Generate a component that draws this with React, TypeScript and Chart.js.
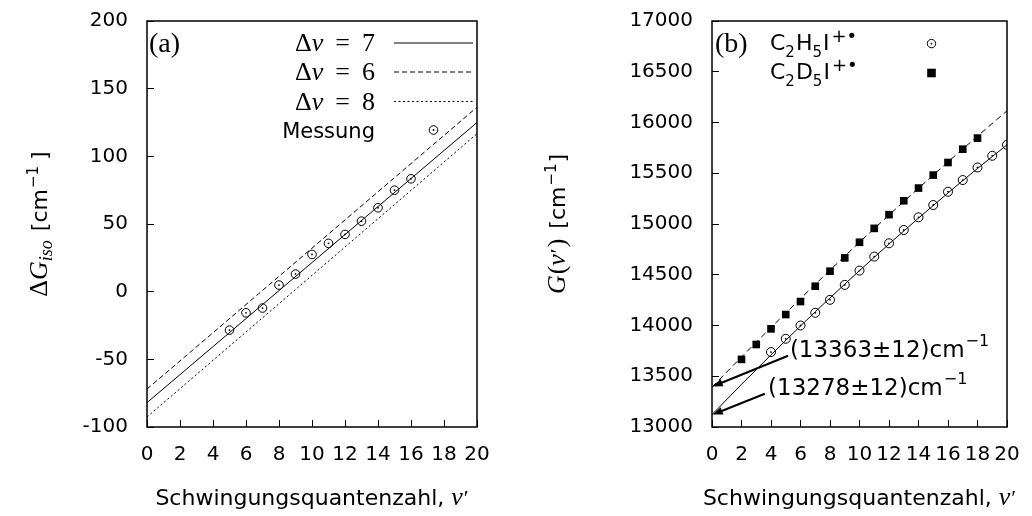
import React, { useEffect, useRef } from 'react';
import { Chart, registerables } from 'chart.js';

Chart.register(...registerables);

const SANS = '"DejaVu Sans", sans-serif';
const SERIF = '"Liberation Serif", serif';
const BLACK = '#000000';

// ---------- tick labels ----------
const xTickLabels = [0, 2, 4, 6, 8, 10, 12, 14, 16, 18, 20];
const leftYTickLabels = [-100, -50, 0, 50, 100, 150, 200];
const rightYTickLabels = [13000, 13500, 14000, 14500, 15000, 15500, 16000, 16500, 17000];

// ---------- panel (a) ----------
const messV = [5, 6, 7, 8, 9, 10, 11, 12, 13, 14, 15, 16];
const messDG = [-28.4, -15.6, -12.1, 4.9, 13.0, 27.5, 35.7, 42.3, 52.1, 62.0, 75.0, 83.4];
const lineV = [0, 20];
const dv7Line = [-82, 125];
const dv6Line = [-72, 136.3];
const dv8Line = [-92.6, 116.7];
const dvNames = ['7', '6', '8'];

// ---------- panel (b) ----------
const hV = [4, 5, 6, 7, 8, 9, 10, 11, 12, 13, 14, 15, 16, 17, 18, 19, 20];
const hG = [13738, 13869, 14000, 14125, 14253, 14400, 14541, 14679, 14810, 14941, 15066, 15187, 15318, 15433, 15557, 15672, 15780];
const dV = [2, 3, 4, 5, 6, 7, 8, 9, 10, 11, 12, 13, 14, 15, 16, 17, 18];
const dG = [13666, 13813, 13967, 14108, 14236, 14387, 14535, 14666, 14820, 14957, 15092, 15229, 15354, 15482, 15606, 15737, 15846];
const fitV = [0, 2, 4, 6, 8, 10, 12, 14, 16, 18, 20];
const hFit = [13122, 13420, 13711, 13995, 14272, 14541, 14803, 15058, 15306, 15547, 15780];
const dFit = [13394, 13689, 13980, 14265, 14545, 14820, 15088, 15352, 15611, 15865, 16115];

const t0Values = [13363, 13278];
const t0Errors = [12, 12];
const arrowHeads = [[0.05, 13400], [0.05, 13122]];
const arrowTails = [[5.16, 13702], [3.58, 13328]];
const labelAnchors = [[5.28, 13771], [3.8, 13397]];

type Seg = { text: string; font: string; dy?: number; dx?: number };

function richWidth(ctx: CanvasRenderingContext2D, segs: Seg[]) {
  let w = 0;
  for (const s of segs) {
    ctx.font = s.font;
    w += ctx.measureText(s.text).width + (s.dx || 0);
  }
  return w;
}

function drawRich(ctx: CanvasRenderingContext2D, segs: Seg[], x: number, y: number, align: 'left' | 'right' | 'center') {
  const w = richWidth(ctx, segs);
  let cx = align === 'left' ? x : align === 'right' ? x - w : x - w / 2;
  ctx.textAlign = 'left';
  ctx.textBaseline = 'alphabetic';
  for (const s of segs) {
    ctx.font = s.font;
    cx += s.dx || 0;
    ctx.fillText(s.text, cx, y + (s.dy || 0));
    cx += ctx.measureText(s.text).width;
  }
}

function drawArrow(ctx: CanvasRenderingContext2D, x1: number, y1: number, x2: number, y2: number) {
  const a = Math.atan2(y2 - y1, x2 - x1);
  const c = Math.cos(a), s = Math.sin(a);
  const L = 10, W = 3.8;
  ctx.lineWidth = 2;
  ctx.beginPath();
  ctx.moveTo(x1, y1);
  ctx.lineTo(x2 - L * 0.7 * c, y2 - L * 0.7 * s);
  ctx.stroke();
  ctx.beginPath();
  ctx.moveTo(x2, y2);
  ctx.lineTo(x2 - L * c + W * s, y2 - L * s - W * c);
  ctx.lineTo(x2 - L * c - W * s, y2 - L * s + W * c);
  ctx.closePath();
  ctx.fill();
}

const pts = (xs: number[], ys: number[]) => xs.map((x, i) => ({ x, y: ys[i] }));

function axis(min: number, max: number, ticks: number[], dim: 'w' | 'h', size: number, padding: number) {
  return {
    type: 'linear' as const,
    min,
    max,
    afterBuildTicks: (s: any) => {
      s.ticks = ticks.map((v) => ({ value: v }));
    },
    afterFit: (s: any) => {
      if (dim === 'w') s.width = size;
      else s.height = size;
      s.paddingTop = 0;
      s.paddingBottom = 0;
      s.paddingLeft = 0;
      s.paddingRight = 0;
    },
    ticks: {
      color: BLACK,
      font: { family: SANS, size: 20 },
      padding,
      autoSkip: false,
      maxRotation: 0,
      minRotation: 0,
      callback: (v: any) => String(v),
    },
    grid: { drawOnChartArea: false, drawTicks: true, tickLength: -7, color: BLACK, lineWidth: 1 },
    border: { display: false },
  };
}

function xTitle(ctx: CanvasRenderingContext2D, cx: number) {
  drawRich(
    ctx,
    [
      { text: 'Schwingungsquantenzahl, ', font: `22px ${SANS}` },
      { text: 'v', font: `italic 26px ${SERIF}` },
      { text: '′', font: `22px ${SERIF}`, dx: 1 },
    ],
    cx,
    505,
    'center'
  );
}

function frame(ctx: CanvasRenderingContext2D, ca: any) {
  ctx.lineWidth = 1.5;
  ctx.strokeRect(ca.left, ca.top, ca.right - ca.left, ca.bottom - ca.top);
}

function circleMarker(ctx: CanvasRenderingContext2D, x: number, y: number, r: number) {
  ctx.lineWidth = 1;
  ctx.beginPath();
  ctx.arc(x, y, r, 0, Math.PI * 2);
  ctx.stroke();
  ctx.beginPath();
  ctx.arc(x, y, 0.9, 0, Math.PI * 2);
  ctx.fill();
}

const dashes = [[], [5, 3], [2, 2.5]];

const leftDecor = {
  id: 'leftDecor',
  afterDraw(chart: any) {
    const { ctx, chartArea: ca } = chart;
    ctx.save();
    ctx.fillStyle = BLACK;
    ctx.strokeStyle = BLACK;
    frame(ctx, ca);
    drawRich(ctx, [{ text: '(a)', font: `28px ${SERIF}` }], ca.left + 2, ca.top + 31, 'left');

    const textRight = ca.right - 102;
    const lineStart = ca.right - 83;
    const lineEnd = ca.right - 4;
    const rowCenters = [22, 51, 80.5, 109];
    for (let i = 0; i < 3; i++) {
      const yc = ca.top + rowCenters[i];
      drawRich(
        ctx,
        [
          { text: 'Δ', font: `26px ${SERIF}` },
          { text: 'v', font: `italic 26px ${SERIF}` },
          { text: '=', font: `26px ${SERIF}`, dx: 12 },
          { text: dvNames[i], font: `26px ${SERIF}`, dx: 12 },
        ],
        textRight,
        yc + 8,
        'right'
      );
      ctx.lineWidth = 1;
      ctx.setLineDash(dashes[i]);
      ctx.beginPath();
      ctx.moveTo(lineStart, yc);
      ctx.lineTo(lineEnd, yc);
      ctx.stroke();
      ctx.setLineDash([]);
    }
    const ym = ca.top + rowCenters[3];
    drawRich(ctx, [{ text: 'Messung', font: `21px ${SANS}` }], textRight, ym + 8, 'right');
    circleMarker(ctx, (lineStart + lineEnd) / 2, ym, 4.3);

    xTitle(ctx, (ca.left + ca.right) / 2);

    ctx.save();
    ctx.translate(47, (ca.top + ca.bottom) / 2);
    ctx.rotate(-Math.PI / 2);
    drawRich(
      ctx,
      [
        { text: 'Δ', font: `26px ${SERIF}` },
        { text: 'G', font: `italic 26px ${SERIF}` },
        { text: 'iso', font: `italic 18px ${SERIF}`, dy: 5 },
        { text: '[cm', font: `22px ${SANS}`, dx: 9 },
        { text: '−1', font: `15px ${SANS}`, dy: -9, dx: 1 },
        { text: ']', font: `22px ${SANS}`, dx: 6 },
      ],
      0,
      0,
      'center'
    );
    ctx.restore();
    ctx.restore();
  },
};

const rightDecor = {
  id: 'rightDecor',
  afterDatasetsDraw(chart: any) {
    const { ctx } = chart;
    const xs = chart.scales.x;
    const ys = chart.scales.y;
    ctx.save();
    ctx.fillStyle = BLACK;
    ctx.strokeStyle = BLACK;
    for (let i = 0; i < arrowHeads.length; i++) {
      drawArrow(
        ctx,
        xs.getPixelForValue(arrowTails[i][0]),
        ys.getPixelForValue(arrowTails[i][1]),
        xs.getPixelForValue(arrowHeads[i][0]),
        ys.getPixelForValue(arrowHeads[i][1])
      );
      drawRich(
        ctx,
        [
          { text: `(${t0Values[i]}±${t0Errors[i]})cm`, font: `23px ${SANS}` },
          { text: '−1', font: `16px ${SANS}`, dy: -11, dx: 1 },
        ],
        xs.getPixelForValue(labelAnchors[i][0]),
        ys.getPixelForValue(labelAnchors[i][1]) + 8,
        'left'
      );
    }
    ctx.restore();
  },
  afterDraw(chart: any) {
    const { ctx, chartArea: ca } = chart;
    ctx.save();
    ctx.fillStyle = BLACK;
    ctx.strokeStyle = BLACK;
    frame(ctx, ca);
    drawRich(ctx, [{ text: '(b)', font: `28px ${SERIF}` }], ca.left + 3, ca.top + 31, 'left');

    const tx = ca.left + 58;
    const mx = ca.left + 219.5;
    const names = ['H', 'D'];
    const rowsBase = [29.3, 57.6];
    for (let i = 0; i < 2; i++) {
      const by = ca.top + rowsBase[i];
      drawRich(
        ctx,
        [
          { text: 'C', font: `22px ${SANS}` },
          { text: '2', font: `15px ${SANS}`, dy: 7 },
          { text: names[i], font: `22px ${SANS}`, dx: 1 },
          { text: '5', font: `15px ${SANS}`, dy: 7 },
          { text: 'I', font: `22px ${SANS}`, dx: 1 },
          { text: '+', font: `18px ${SANS}`, dy: -8, dx: 2 },
          { text: '•', font: `18px ${SANS}`, dy: -8 },
        ],
        tx,
        by,
        'left'
      );
    }
    circleMarker(ctx, mx, ca.top + 22.6, 4.2);
    ctx.fillRect(mx - 4.3, ca.top + 52 - 4.3, 8.6, 8.6);

    xTitle(ctx, (ca.left + ca.right) / 2);

    ctx.save();
    ctx.translate(49, (ca.top + ca.bottom) / 2);
    ctx.rotate(-Math.PI / 2);
    drawRich(
      ctx,
      [
        { text: 'G', font: `italic 26px ${SERIF}` },
        { text: '(', font: `26px ${SERIF}`, dx: 1 },
        { text: 'v', font: `italic 26px ${SERIF}` },
        { text: '′', font: `22px ${SERIF}`, dx: 1 },
        { text: ')', font: `26px ${SERIF}`, dx: 1 },
        { text: '[cm', font: `22px ${SANS}`, dx: 10 },
        { text: '−1', font: `15px ${SANS}`, dy: -9, dx: 1 },
        { text: ']', font: `22px ${SANS}`, dx: 1 },
      ],
      0,
      0,
      'center'
    );
    ctx.restore();
    ctx.restore();
  },
};

export default function App() {
  const leftRef = useRef<HTMLCanvasElement>(null);
  const rightRef = useRef<HTMLCanvasElement>(null);

  useEffect(() => {
    const common = {
      responsive: false,
      animation: false as const,
      devicePixelRatio: 1,
      events: [] as any[],
      plugins: { legend: { display: false }, tooltip: { enabled: false } },
    };

    const left = new Chart(leftRef.current as HTMLCanvasElement, {
      type: 'line',
      data: {
        datasets: [
          { data: pts(lineV, dv7Line), borderColor: BLACK, borderWidth: 1, pointRadius: 0, borderDash: dashes[0] },
          { data: pts(lineV, dv6Line), borderColor: BLACK, borderWidth: 1, pointRadius: 0, borderDash: dashes[1] },
          { data: pts(lineV, dv8Line), borderColor: BLACK, borderWidth: 1, pointRadius: 0, borderDash: dashes[2] },
          {
            data: pts(messV, messDG),
            showLine: false,
            pointStyle: 'circle',
            pointRadius: 4.3,
            pointBorderWidth: 1,
            pointBorderColor: BLACK,
            pointBackgroundColor: 'rgba(0,0,0,0)',
          },
          {
            data: pts(messV, messDG),
            showLine: false,
            pointStyle: 'circle',
            pointRadius: 0.9,
            pointBorderWidth: 0,
            pointBackgroundColor: BLACK,
          },
        ] as any,
      },
      options: {
        ...common,
        layout: { padding: { top: 21, right: 39, bottom: 0, left: 0 } },
        scales: {
          x: axis(0, 20, xTickLabels, 'h', 89, 23) as any,
          y: axis(-100, 200, leftYTickLabels, 'w', 147, 26) as any,
        },
      } as any,
      plugins: [leftDecor],
    });

    const right = new Chart(rightRef.current as HTMLCanvasElement, {
      type: 'line',
      data: {
        datasets: [
          { data: pts(fitV, hFit), borderColor: BLACK, borderWidth: 1, pointRadius: 0, cubicInterpolationMode: 'monotone' },
          { data: pts(fitV, dFit), borderColor: BLACK, borderWidth: 1, pointRadius: 0, borderDash: [6, 4], cubicInterpolationMode: 'monotone' },
          {
            data: pts(hV, hG),
            showLine: false,
            pointStyle: 'circle',
            pointRadius: 4.5,
            pointBorderWidth: 1,
            pointBorderColor: BLACK,
            pointBackgroundColor: 'rgba(0,0,0,0)',
          },
          {
            data: pts(hV, hG),
            showLine: false,
            pointStyle: 'circle',
            pointRadius: 0.9,
            pointBorderWidth: 0,
            pointBackgroundColor: BLACK,
          },
          {
            data: pts(dV, dG),
            showLine: false,
            pointStyle: 'rect',
            pointRadius: 5.4,
            pointBorderWidth: 0,
            pointBackgroundColor: BLACK,
          },
        ] as any,
      },
      options: {
        ...common,
        layout: { padding: { top: 21, right: 25, bottom: 0, left: 0 } },
        scales: {
          x: axis(0, 20, xTickLabels, 'h', 89, 23) as any,
          y: axis(13000, 17000, rightYTickLabels, 'w', 196, 26) as any,
        },
      } as any,
      plugins: [rightDecor],
    });

    return () => {
      left.destroy();
      right.destroy();
    };
  }, []);

  return (
    <div style={{ position: 'fixed', left: 0, top: 0, width: 1032, height: 516, background: '#ffffff' }}>
      <canvas ref={leftRef} width={516} height={516} style={{ position: 'absolute', left: 0, top: 0 }} />
      <canvas ref={rightRef} width={516} height={516} style={{ position: 'absolute', left: 516, top: 0 }} />
    </div>
  );
}
